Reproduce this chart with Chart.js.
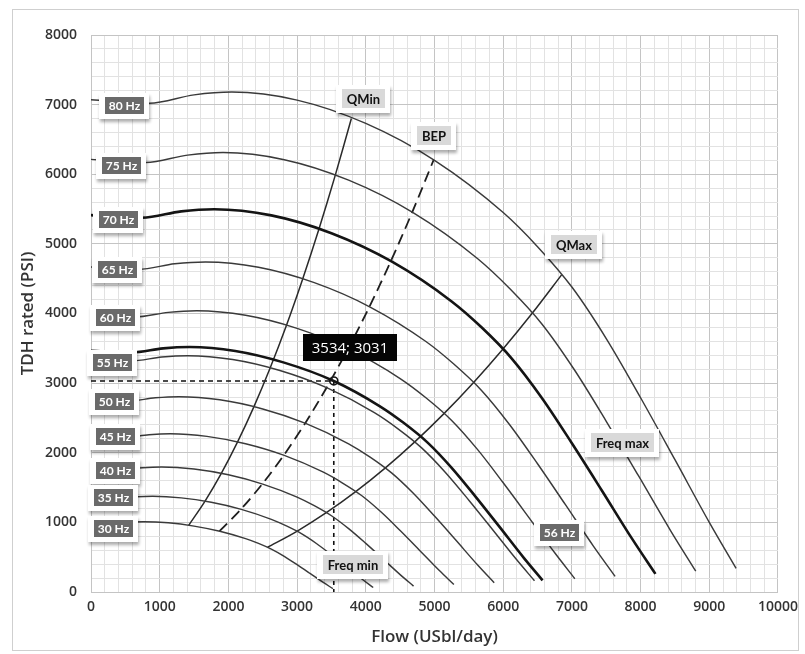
<!DOCTYPE html>
<html>
<head>
<meta charset="utf-8">
<script src="https://cdn.jsdelivr.net/npm/chart.js@4/dist/chart.umd.min.js"></script>
<style>
  html, body { margin: 0; padding: 0; background: #fff; }
  #wrap { width: 805px; height: 654px; }
</style>
</head>
<body>
<div id="wrap"><canvas id="pumpChart" width="805" height="654"></canvas></div>
<script>
// Head curves per drive frequency: [flow USbl/day, TDH PSI]
const hz30 = [[0,994],[319,987],[563,1004],[769,1010],[1125,994],[1500,946],[1875,872],[2250,766],[2438,698],[2625,616],[2813,512],[3000,392],[3188,267],[3375,141],[3521,48]];
const hz35 = [[0,1353],[372,1344],[656,1367],[897,1374],[1313,1352],[1750,1288],[2188,1187],[2625,1043],[2844,949],[3063,838],[3281,697],[3500,534],[3719,364],[3938,191],[4108,65]];
const hz40 = [[0,1768],[425,1755],[750,1785],[1025,1795],[1500,1766],[2000,1683],[2500,1550],[3000,1363],[3250,1240],[3500,1095],[3750,910],[4000,698],[4250,475],[4500,250],[4695,85]];
const hz45 = [[0,2237],[478,2221],[844,2259],[1153,2272],[1688,2235],[2250,2129],[2813,1962],[3375,1724],[3656,1569],[3938,1386],[4219,1152],[4500,883],[4781,601],[5063,316],[5282,108]];
const hz50 = [[0,2762],[531,2742],[938,2789],[1281,2805],[1875,2760],[2500,2629],[3125,2422],[3750,2129],[4063,1938],[4375,1711],[4688,1422],[5000,1090],[5313,742],[5625,391],[5869,133]];
const hz55 = [[0,3342],[584,3318],[1031,3375],[1409,3394],[2063,3339],[2750,3181],[3438,2931],[4125,2576],[4469,2344],[4813,2070],[5156,1721],[5500,1319],[5844,898],[6188,473],[6456,161]];
const hz56 = [[0,3464],[595,3440],[1050,3499],[1435,3518],[2100,3462],[2800,3298],[3534,3031],[4200,2671],[4550,2430],[4900,2146],[5250,1784],[5600,1367],[5950,931],[6300,490],[6573,167]];
const hz60 = [[0,3977],[638,3949],[1125,4016],[1538,4039],[2250,3974],[3000,3786],[3750,3488],[4500,3066],[4875,2790],[5250,2464],[5625,2048],[6000,1569],[6375,1069],[6750,563],[7043,191]];
const hz65 = [[0,4667],[691,4634],[1219,4714],[1666,4740],[2438,4664],[3250,4443],[4063,4093],[4875,3598],[5281,3274],[5688,2892],[6094,2403],[6500,1842],[6906,1254],[7313,660],[7629,224]];
const hz70 = [[0,5413],[744,5375],[1313,5467],[1794,5497],[2625,5409],[3500,5153],[4375,4747],[5250,4173],[5688,3798],[6125,3353],[6563,2787],[7000,2136],[7438,1455],[7875,766],[8216,260]];
const hz75 = [[0,6214],[797,6170],[1406,6275],[1922,6311],[2813,6209],[3750,5915],[4688,5449],[5625,4790],[6094,4359],[6563,3850],[7031,3199],[7500,2452],[7969,1670],[8438,879],[8803,299]];
const hz80 = [[0,7070],[850,7020],[1500,7140],[2050,7180],[3000,7065],[4000,6730],[5000,6200],[6000,5450],[6500,4960],[7000,4380],[7500,3640],[8000,2790],[8500,1900],[9000,1000],[9390,340]];

// Operating limits, one point per frequency from 30 Hz to 80 Hz
const qMin = [[1421,956],[1658,1302],[1895,1700],[2132,2152],[2369,2656],[2606,3214],[2843,3825],[3079,4489],[3316,5206],[3553,5977],[3790,6800]];
const bep  = [[1871,873],[2182,1188],[2494,1552],[2806,1964],[3118,2425],[3429,2934],[3741,3491],[4053,4098],[4365,4752],[4676,5455],[4988,6207]];
const qMax = [[2569,641],[2997,872],[3425,1139],[3853,1441],[4281,1779],[4709,2153],[5138,2562],[5566,3007],[5994,3487],[6422,4003],[6850,4555]];

// Selected operating point
const markFlow = 3534;
const markHead = 3031;

const freqLabels = ['30 Hz','35 Hz','40 Hz','45 Hz','50 Hz','55 Hz','56 Hz','60 Hz','65 Hz','70 Hz','75 Hz','80 Hz'];
const freqCurves = [hz30, hz35, hz40, hz45, hz50, hz55, hz56, hz60, hz65, hz70, hz75, hz80];
const boldCurves = ['56 Hz', '70 Hz'];

const xTicks = [0, 1000, 2000, 3000, 4000, 5000, 6000, 7000, 8000, 9000, 10000];
const yTicks = [0, 1000, 2000, 3000, 4000, 5000, 6000, 7000, 8000];

const toPts = arr => arr.map(([x, y]) => ({ x, y }));

const datasets = [];
freqCurves.forEach((c, i) => {
  const bold = boldCurves.includes(freqLabels[i]);
  datasets.push({
    label: freqLabels[i], data: toPts(c), showLine: true, pointRadius: 0,
    borderColor: bold ? '#141414' : '#3a3a3a', borderWidth: bold ? 2.6 : 1.45,
    cubicInterpolationMode: 'monotone', fill: false
  });
});
datasets.push({ label: 'QMin', data: toPts(qMin), showLine: true, pointRadius: 0,
  borderColor: '#2a2a2a', borderWidth: 1.5, tension: 0.3 });
datasets.push({ label: 'BEP', data: toPts(bep), showLine: true, pointRadius: 0,
  borderColor: '#1e1e1e', borderWidth: 1.8, borderDash: [11, 6], tension: 0.3 });
datasets.push({ label: 'QMax', data: toPts(qMax), showLine: true, pointRadius: 0,
  borderColor: '#2a2a2a', borderWidth: 1.5, tension: 0.3 });
// crosshair to the operating point
datasets.push({ label: 'guideH', data: [{ x: 0, y: markHead }, { x: markFlow, y: markHead }],
  showLine: true, pointRadius: 0, borderColor: '#111', borderWidth: 1.6, borderDash: [5, 4] });
datasets.push({ label: 'guideV', data: [{ x: markFlow, y: markHead }, { x: markFlow, y: 0 }],
  showLine: true, pointRadius: 0, borderColor: '#111', borderWidth: 1.6, borderDash: [4, 4] });
datasets.push({ label: 'point', data: [{ x: markFlow, y: markHead }], showLine: false,
  pointRadius: 4, pointStyle: 'circle', borderColor: '#111', borderWidth: 1.6,
  backgroundColor: 'rgba(255,255,255,0)' });

// Tag annotations anchored in data coordinates (flow, head)
const tags = [
  { text: '80 Hz', x: 483, y: 6990, kind: 'hz' },
  { text: '75 Hz', x: 443, y: 6121, kind: 'hz' },
  { text: '70 Hz', x: 404, y: 5345, kind: 'hz' },
  { text: '65 Hz', x: 382, y: 4626, kind: 'hz' },
  { text: '60 Hz', x: 354, y: 3937, kind: 'hz' },
  { text: '55 Hz', x: 317, y: 3290, kind: 'hz' },
  { text: '50 Hz', x: 339, y: 2730, kind: 'hz' },
  { text: '45 Hz', x: 354, y: 2227, kind: 'hz' },
  { text: '40 Hz', x: 354, y: 1746, kind: 'hz' },
  { text: '35 Hz', x: 328, y: 1351, kind: 'hz' },
  { text: '30 Hz', x: 328, y: 905, kind: 'hz' },
  { text: '56 Hz', x: 6820, y: 848, kind: 'hz' },
  { text: 'QMin', x: 3968, y: 7083, kind: 'grey' },
  { text: 'BEP', x: 4993, y: 6552, kind: 'grey' },
  { text: 'QMax', x: 7027, y: 4986, kind: 'grey' },
  { text: 'Freq max', x: 7730, y: 2141, kind: 'grey' },
  { text: 'Freq min', x: 3817, y: 388, kind: 'grey' },
  { text: markFlow + '; ' + markHead, x: 3766, y: 3513, kind: 'value' }
];

const tagStyles = {
  hz:    { font: 'bold 12px Lato', bg: '#6a6a6a', fg: '#ffffff', padX: 4, h: 17, frame: true },
  grey:  { font: 'bold 13px Lato', bg: '#d9d9d9', fg: '#111111', padX: 5, h: 19, frame: true },
  value: { font: '15px "Open Sans"', bg: '#050505', fg: '#ffffff', padX: 9, h: 27, frame: false }
};

const tagPlugin = {
  id: 'tags',
  beforeDraw(chart) {
    const ctx = chart.ctx;
    ctx.save();
    ctx.fillStyle = '#ffffff';
    ctx.fillRect(0, 0, chart.width, chart.height);
    ctx.strokeStyle = '#cfcfcf';
    ctx.lineWidth = 1;
    ctx.strokeRect(12.5, 9.5, 786, 641);
    ctx.restore();
  },
  afterDatasetsDraw(chart) {
    const ctx = chart.ctx;
    const xs = chart.scales.x, ys = chart.scales.y;
    tags.forEach(t => {
      const s = tagStyles[t.kind];
      const cx = xs.getPixelForValue(t.x);
      const cy = ys.getPixelForValue(t.y);
      ctx.save();
      ctx.font = s.font;
      const w = Math.round(ctx.measureText(t.text).width + s.padX * 2);
      const h = s.h;
      const x = Math.round(cx - w / 2), y = Math.round(cy - h / 2);
      if (s.frame) {
        ctx.save();
        ctx.shadowColor = 'rgba(0,0,0,0.32)';
        ctx.shadowBlur = 3;
        ctx.shadowOffsetX = 1;
        ctx.shadowOffsetY = 3;
        ctx.fillStyle = '#ffffff';
        ctx.fillRect(x - 6, y - 4, w + 11, h + 9);
        ctx.restore();
      }
      ctx.fillStyle = s.bg;
      ctx.fillRect(x, y, w, h);
      ctx.fillStyle = s.fg;
      ctx.textAlign = 'center';
      ctx.textBaseline = 'middle';
      ctx.fillText(t.text, x + w / 2, y + h / 2 + 1);
      ctx.restore();
    });
  }
};

const gridColor = ctx => (ctx.tick && ctx.tick.value % 1000 === 0) ? '#c4c4c4' : '#e2e2e2';
const tickFont = { family: 'Open Sans', size: 14, weight: '600' };
const titleFont = { family: 'Open Sans', size: 17, weight: '600' };

new Chart(document.getElementById('pumpChart'), {
  type: 'scatter',
  data: { datasets },
  plugins: [tagPlugin],
  options: {
    responsive: false,
    animation: false,
    devicePixelRatio: 1,
    layout: { padding: { top: 35, right: 21, bottom: 0, left: 0 } },
    plugins: { legend: { display: false }, tooltip: { enabled: false } },
    scales: {
      x: {
        type: 'linear', min: 0, max: 10000,
        afterFit: s => { s.height = 62; },
        ticks: {
          stepSize: 200, autoSkip: false, maxRotation: 0, padding: 7,
          color: '#333', font: tickFont,
          callback: v => xTicks.includes(v) ? String(v) : ''
        },
        grid: { color: gridColor, drawTicks: false, lineWidth: 1 },
        border: { display: true, color: '#c4c4c4' },
        title: { display: true, text: 'Flow (USbl/day)', color: '#333',
          font: titleFont, padding: { top: 0, bottom: 7 } }
      },
      y: {
        type: 'linear', min: 0, max: 8000,
        afterFit: s => { s.width = 91; },
        ticks: {
          stepSize: 200, autoSkip: false, padding: 14,
          color: '#333', font: tickFont,
          callback: v => yTicks.includes(v) ? String(v) : ''
        },
        grid: { color: gridColor, drawTicks: false, lineWidth: 1 },
        border: { display: true, color: '#c4c4c4' },
        title: { display: true, text: 'TDH rated (PSI)', color: '#333',
          font: titleFont, padding: { top: 18, bottom: 0 } }
      }
    }
  }
});
</script>
</body>
</html>
